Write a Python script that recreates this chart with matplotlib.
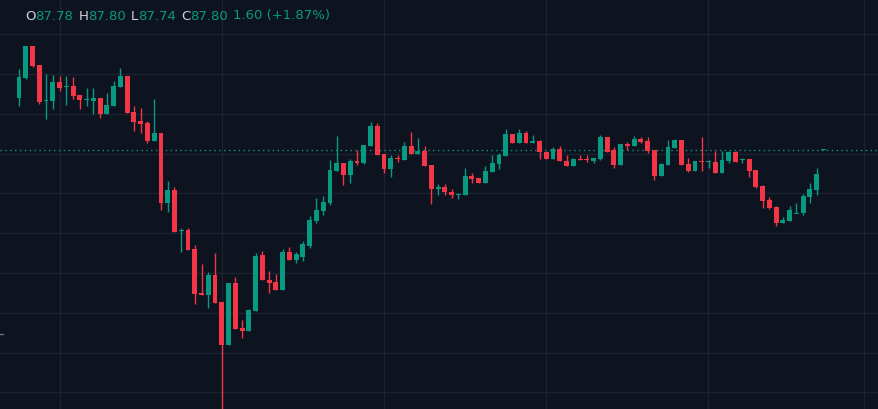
import matplotlib
matplotlib.use("Agg")
import matplotlib.pyplot as plt

# OHLC values, in the chart's own vertical units (top = 0)
opens = [99,79,47,66,101.5,102,83,87.5,87,96,100,102,99,115,107,88,77,113,122,124,142,134,204,191,231.5,231,250,294,296,276,303,346,284,329,332,312,256,281,283,291,253,261,
         258,247,222,212,204,172,164,176,162,164,147,127,155,170,159,161,147,155,152,166,190,188,193,196,196,177,179,184,173,165,157,135,144,134,144,142,153,160,150,
         162,167,160,160,162,160,138,151,166,145,147,140,142,151,177,166,149,141,165,172,162,162,163,174,162,153,160,160,171,187,201,208,224,222,214,214,198,191,151]
highs = [70,47,47,66,75,76,77,77,78,96,89,89,99,94,82,69,77,107,109,122,100,134,182,188,229,229,246,265,273,254,303,284,278,321,310,254,252,272,275,250,248,253,
         242,217,199,197,161,137,164,160,151,146,123,124,155,156,156,143,133,139,147,166,185,185,190,194,169,174,179,167,156,154,130,135,130,132,136,141,152,148,147,
         156,159,156,156,159,136,138,148,145,143,137,138,138,151,164,141,140,141,159,162,138,161,152,152,152,152,159,160,171,186,198,207,218,207,204,195,184,169,150]
lows = [107,80,68,105,120,110,92,106,100,110,107,115,119,115,107,88,114,132,134,144,142,211,213,233,253,251,305,296,309,304,410,346,330,339,332,312,281,294,291,291,261,264,
        262,249,224,216,206,172,186,184,166,165,147,156,174,178,163,161,155,155,167,205,196,196,199,200,196,184,184,184,173,170,157,144,144,144,144,160,160,160,162,
        167,167,161,163,164,161,153,169,166,151,147,144,154,181,177,166,149,166,173,172,172,169,174,174,164,163,164,178,189,209,210,227,224,222,214,216,204,196,151]
closes = [78,47,67,103,101,83,89,87,97,101,100,99,115,106,87,77,114,123,125,142,134,204,191,233,231,251,295,296,276,304,346,284,330,332,311,257,281,284,291,253,261,255,
          245,221,211,203,171,164,176,162,164,146,127,156,170,159,160,147,155,152,167,190,188,193,196,195,177,180,184,172,164,156,135,144,134,144,142,153,160,150,162,
          167,160,161,161,159,138,153,166,145,147,140,143,152,177,165,148,141,166,172,162,163,162,174,161,153,163,160,172,188,202,209,224,221,211,214,197,190,175,150]

grid_y = [35, 75, 115, 155, 194, 234, 274, 314, 354, 393]
grid_x = [60, 222, 384, 546, 708, 864]
last_price_y = 151
header_parts = [("O", "87.78"), ("H", "87.80"), ("L", "87.74"), ("C", "87.80")]
header_change = "1.60 (+1.87%)"

BG = "#0e1320"
GREEN = "#089981"
RED = "#f23645"
GRID = "#1c2230"

fig = plt.figure(figsize=(8.79, 4.10), dpi=100, facecolor=BG)
ax = fig.add_axes([0, 0, 1, 1])
ax.set_facecolor(BG)
step = 6.76
x0 = 19
ax.set_xlim(-x0 / step, (879 - x0) / step)
ax.set_ylim(410, 0)
for s in ax.spines.values():
    s.set_visible(False)
ax.set_xticks([]); ax.set_yticks([])

for gy in grid_y:
    ax.axhline(gy, color=GRID, lw=1, zorder=0)
for gx in grid_x:
    ax.axvline((gx - x0) / step, color=GRID, lw=1, zorder=0)

ax.axhline(last_price_y, color=GREEN, lw=1, ls=(0, (1, 2.5)), zorder=1)

w = 0.72
for i, (o, h, l, c) in enumerate(zip(opens, highs, lows, closes)):
    col = GREEN if c <= o else RED
    ax.vlines(i, h, l, color=col, lw=1, zorder=2)
    top, bot = min(o, c), max(o, c)
    ax.bar(i, max(bot - top, 1.0), bottom=top, width=w, color=col, zorder=3, linewidth=0)

ax.plot([-x0 / step, -x0 / step + 0.5], [335, 335], color="#6a6f7a", lw=1)

x = 25
r = fig.canvas.get_renderer()
for lab, val in header_parts:
    for s, col in ((lab, "#d1d4dc"), (val, GREEN)):
        tt = fig.text(x / 879, 1 - 16 / 410, s, color=col, fontsize=9.5, va="center", ha="left")
        x += tt.get_window_extent(r).width
    x += 5
fig.text(x / 879, 1 - 16 / 410, header_change, color=GREEN, fontsize=9.5, va="center", ha="left")

fig.savefig("out.png", dpi=100, facecolor=BG)
